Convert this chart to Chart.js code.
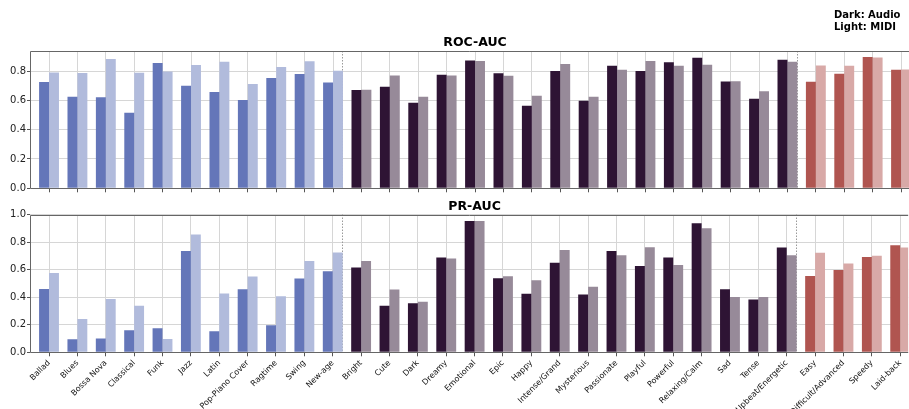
<!DOCTYPE html>
<html>
<head>
<meta charset="utf-8">
<script src="https://cdn.jsdelivr.net/npm/chart.js@4.4.1/dist/chart.umd.min.js"></script>
<style>
  html, body { margin: 0; padding: 0; background: #fff; overflow: hidden; }
  #wrap { position: relative; width: 909px; height: 409px; }
  canvas { position: absolute; left: 0; }
  #roc { top: 0; }
  #pr { top: 195px; }
  #key { position: absolute; left: 834px; top: 9px; font: bold 10px 'DejaVu Sans', sans-serif; line-height: 12px; color: #000; }
</style>
</head>
<body>
<div id="wrap">
  <canvas id="roc" width="909" height="200"></canvas>
  <canvas id="pr" width="909" height="214"></canvas>
  <div id="key">Dark: Audio<br>Light: MIDI</div>
</div>
<script>
// Tag categories: genres, moods, then difficulty / tempo tags
const categories = [
  'Ballad', 'Blues', 'Bossa Nova', 'Classical', 'Funk', 'Jazz', 'Latin', 'Pop-Piano Cover',
  'Ragtime', 'Swing', 'New-age',
  'Bright', 'Cute', 'Dark', 'Dreamy', 'Emotional', 'Epic', 'Happy', 'Intense/Grand',
  'Mysterious', 'Passionate', 'Playful', 'Powerful', 'Relaxing/Calm', 'Sad', 'Tense',
  'Upbeat/Energetic',
  'Easy', 'Difficult/Advanced', 'Speedy', 'Laid-back'
];
const genreCount = 11;
const moodCount = 16;
const otherCount = 4;

// ROC-AUC per tag
const rocAudio = [0.725, 0.624, 0.622, 0.515, 0.855, 0.700, 0.658, 0.603, 0.752, 0.780, 0.722,
                  0.670, 0.693, 0.583, 0.775, 0.873, 0.786, 0.563, 0.800, 0.597, 0.837, 0.800,
                  0.861, 0.891, 0.729, 0.611, 0.877,
                  0.727, 0.781, 0.896, 0.809];
const rocMidi  = [0.790, 0.787, 0.882, 0.788, 0.797, 0.841, 0.864, 0.712, 0.827, 0.867, 0.802,
                  0.672, 0.770, 0.624, 0.770, 0.868, 0.768, 0.631, 0.848, 0.624, 0.809, 0.868,
                  0.836, 0.843, 0.731, 0.663, 0.864,
                  0.838, 0.836, 0.893, 0.811];

// PR-AUC per tag
const prAudio = [0.460, 0.094, 0.100, 0.160, 0.174, 0.736, 0.153, 0.458, 0.196, 0.535, 0.588,
                 0.615, 0.337, 0.356, 0.688, 0.952, 0.538, 0.424, 0.649, 0.419, 0.736, 0.627,
                 0.688, 0.937, 0.458, 0.383, 0.760,
                 0.554, 0.598, 0.692, 0.777];
const prMidi  = [0.576, 0.242, 0.387, 0.337, 0.097, 0.855, 0.426, 0.550, 0.407, 0.663, 0.724,
                 0.663, 0.455, 0.366, 0.680, 0.952, 0.552, 0.523, 0.743, 0.475, 0.705, 0.763,
                 0.634, 0.900, 0.402, 0.402, 0.705,
                 0.722, 0.644, 0.700, 0.760];

const rocTicks = [0, 0.2, 0.4, 0.6, 0.8];
const prTicks = [0, 0.2, 0.4, 0.6, 0.8, 1.0];

const palette = {
  genre: { dark: '#6476b9', light: '#b1bbdc' },
  mood:  { dark: '#2e1434', light: '#978a99' },
  other: { dark: '#b05550', light: '#d8a9a7' }
};
const groupOf = [
  ...Array(genreCount).fill('genre'),
  ...Array(moodCount).fill('mood'),
  ...Array(otherCount).fill('other')
];
// last index of each group that is followed by a separator
const groupEnds = [genreCount - 1, genreCount + moodCount - 1];

const FONT = "'DejaVu Sans', sans-serif";
Chart.defaults.font.family = FONT;
Chart.defaults.color = '#222';

const GRID = '#d6d6d6';
const TICK = '#555';
const SPINE = '#666';

// panel frame, group separators and the panel heading centred over the tag range
const framePlugin = {
  id: 'frame',
  beforeDatasetsDraw(chart) {
    const { ctx, chartArea: a, scales: { x } } = chart;
    ctx.save();
    ctx.strokeStyle = '#9a9a9a';
    ctx.lineWidth = 1;
    ctx.setLineDash([1.5, 1.5]);
    groupEnds.forEach(i => {
      const px = Math.round(x.getPixelForValue(i + 0.33)) + 0.5;
      ctx.beginPath();
      ctx.moveTo(px, a.top);
      ctx.lineTo(px, a.bottom);
      ctx.stroke();
    });
    ctx.restore();
  },
  afterDatasetsDraw(chart, args, opts) {
    const { ctx, chartArea: a, scales: { x } } = chart;
    ctx.save();
    ctx.strokeStyle = SPINE;
    ctx.lineWidth = 1;
    const t = Math.round(a.top) + 0.5;
    const b = Math.round(a.bottom) + 0.5;
    const l = Math.round(a.left) + 0.5;
    ctx.beginPath();
    ctx.moveTo(l, t); ctx.lineTo(a.right, t);
    ctx.moveTo(l, t); ctx.lineTo(l, b);
    ctx.moveTo(l, b); ctx.lineTo(a.right, b);
    ctx.stroke();

    ctx.fillStyle = '#000';
    ctx.font = "bold 12.5px " + FONT;
    ctx.textAlign = 'center';
    ctx.textBaseline = 'middle';
    ctx.fillText(opts.text, x.getPixelForValue((categories.length - 1) / 2), a.top - 8);
    ctx.restore();
  }
};

function makeChart(id, title, audio, midi, yMax, yTicks, showLabels, topPad, xAxisHeight) {
  return new Chart(document.getElementById(id), {
    type: 'bar',
    data: {
      datasets: [
        {
          label: 'Audio',
          data: audio.map((v, i) => ({ x: i, y: v })),
          backgroundColor: groupOf.map(g => palette[g].dark),
          categoryPercentage: 0.7,
          barPercentage: 1.0,
          borderWidth: 0
        },
        {
          label: 'MIDI',
          data: midi.map((v, i) => ({ x: i, y: v })),
          backgroundColor: groupOf.map(g => palette[g].light),
          categoryPercentage: 0.7,
          barPercentage: 1.0,
          borderWidth: 0
        }
      ]
    },
    options: {
      responsive: false,
      animation: false,
      devicePixelRatio: 1,
      layout: { padding: { top: topPad, left: 0, right: 0, bottom: 0 } },
      plugins: {
        legend: { display: false },
        tooltip: { enabled: false },
        title: { display: false },
        frame: { text: title }
      },
      scales: {
        x: {
          type: 'linear',
          min: -0.67,
          max: 30.28,
          offset: false,
          afterBuildTicks: s => { s.ticks = categories.map((_, i) => ({ value: i })); },
          afterFit: s => { s.height = xAxisHeight; },
          ticks: {
            display: showLabels,
            autoSkip: false,
            minRotation: 45,
            maxRotation: 45,
            padding: 2,
            color: '#111',
            font: { size: 8 },
            callback: v => categories[v]
          },
          grid: { color: GRID, offset: false, drawTicks: true, tickLength: 4, tickColor: TICK },
          border: { display: false }
        },
        y: {
          min: 0,
          max: yMax,
          afterBuildTicks: s => { s.ticks = yTicks.map(v => ({ value: v })); },
          afterFit: s => { s.width = 30; },
          ticks: {
            padding: 1,
            color: '#222',
            font: { size: 10 },
            callback: v => v.toFixed(1)
          },
          grid: { color: GRID, drawTicks: true, tickLength: 3, tickColor: TICK },
          border: { display: false }
        }
      }
    },
    plugins: [framePlugin]
  });
}

makeChart('roc', 'ROC-AUC', rocAudio, rocMidi, 0.937, rocTicks, false, 51, 11.7);
makeChart('pr', 'PR-AUC', prAudio, prMidi, 1.0, prTicks, true, 19.5, 56.7);
</script>
</body>
</html>
